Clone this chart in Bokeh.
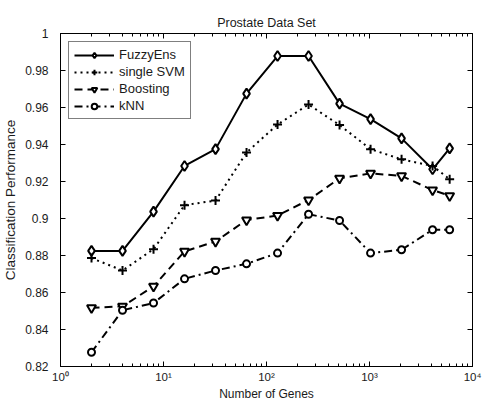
from bokeh.plotting import figure
from bokeh.models import (Range1d, FixedTicker, LinearAxis, LogAxis, NumeralTickFormatter,
                          Legend, LegendItem)
from bokeh.embed import file_html
from bokeh.resources import INLINE

genes = [2, 4, 8, 16, 32, 64, 128, 256, 512, 1024, 2048, 4096, 6000]
fuzzy = [0.8825, 0.8825, 0.9037, 0.9284, 0.9375, 0.9675, 0.9878, 0.9878, 0.9621, 0.9537, 0.9433, 0.9266, 0.9379]
svm = [0.8786, 0.8719, 0.8834, 0.9072, 0.9097, 0.9357, 0.9508, 0.9616, 0.9505, 0.9375, 0.9320, 0.9284, 0.9212]
boost = [0.8517, 0.8525, 0.8633, 0.8822, 0.8876, 0.8992, 0.9016, 0.9100, 0.9217, 0.9244, 0.9230, 0.9154, 0.9123]
knn = [0.8277, 0.8504, 0.8543, 0.8674, 0.8719, 0.8755, 0.8813, 0.9023, 0.8989, 0.8813, 0.8831, 0.8939, 0.8939]

x_ticks = [1, 10, 100, 1000, 10000]
x_tick_labels = ["10\u2070", "10\u00b9", "10\u00b2", "10\u00b3", "10\u2074"]
y_ticks = [0.82, 0.84, 0.86, 0.88, 0.90, 0.92, 0.94, 0.96, 0.98, 1.00]

FONT = "Liberation Sans"
TICKFONT = "Liberation Sans Narrow, Liberation Sans"
TXT = "#1a1a1a"

p = figure(width=482, height=403, x_axis_type="log",
           x_range=Range1d(1, 10000), y_range=Range1d(0.82, 1.0),
           output_backend="svg", toolbar_location=None,
           min_border_left=56, min_border_right=10, min_border_top=33, min_border_bottom=36,
           title="Prostate Data Set")
p.title.align = "center"
p.title.text_font = FONT
p.title.text_font_style = "normal"
p.title.text_font_size = "12.5px"
p.title.text_color = TXT
p.title.standoff = 7
p.grid.visible = False
p.outline_line_color = "black"
p.outline_line_width = 1
p.background_fill_color = "white"
p.border_fill_color = "white"

minor = [m * t for t in x_ticks[:-1] for m in range(2, 10)]
xt = FixedTicker(ticks=x_ticks, minor_ticks=minor)
yt = FixedTicker(ticks=y_ticks, minor_ticks=[])

def style(ax):
    ax.axis_line_color = "black"
    ax.major_tick_line_color = "black"
    ax.minor_tick_line_color = "black"
    ax.major_tick_in = 5
    ax.major_tick_out = 0
    ax.minor_tick_in = 3
    ax.minor_tick_out = 0
    ax.major_label_text_font = TICKFONT
    ax.major_label_text_font_size = "12px"
    ax.major_label_text_color = TXT
    ax.axis_label_text_font = FONT
    ax.axis_label_text_font_size = "12.5px"
    ax.axis_label_text_font_style = "normal"
    ax.axis_label_text_color = TXT

xa = p.xaxis[0]
xa.ticker = xt
xa.major_label_overrides = {t: l for t, l in zip(x_ticks, x_tick_labels)}
xa.axis_label = "Number of Genes"
style(xa)
xa.axis_label_standoff = 1
xa.major_label_standoff = 4
xa.major_label_text_font_size = "11.5px"
xa.axis_label_text_font_size = "12px"

ya = p.yaxis[0]
ya.ticker = yt
ya.formatter = NumeralTickFormatter(format="0.[00]")
ya.axis_label = "Classification Performance"
ya.axis_label_standoff = 4
ya.major_label_standoff = 12
style(ya)
ya.axis_label_text_font_size = "13.5px"

ra = LinearAxis(ticker=yt)
style(ra)
ra.major_label_text_font_size = "1px"
ra.major_label_text_alpha = 0
ra.major_label_standoff = 0
p.add_layout(ra, "right")

ta = LogAxis(ticker=xt)
style(ta)
ta.major_label_text_font_size = "1px"
ta.major_label_text_alpha = 0
ta.major_label_standoff = 0
p.add_layout(ta, "above")

series = [
    ("FuzzyEns", fuzzy, "solid", "diamond", 10),
    ("single SVM", svm, "2 4", "cross", 9),
    ("Boosting", boost, "8 5", "inverted_triangle", 9),
    ("kNN", knn, "8 4 2 4", "circle", 7),
]

items = []
for name, ys, dash, marker, size in series:
    l = p.line(genes, ys, line_color="black", line_width=2, line_dash=dash)
    s = p.scatter(genes, ys, marker=marker, size=size, line_color="black",
                  fill_color="white", line_width=2)
    items.append(LegendItem(label=name, renderers=[l, s]))

legend = Legend(items=items, location="top_left")
legend.margin = 8
legend.padding = 5
legend.spacing = 2
legend.glyph_width = 40
legend.glyph_height = 14
legend.label_height = 14
legend.label_standoff = 5
legend.label_text_font = FONT
legend.label_text_font_size = "13px"
legend.label_text_color = TXT
legend.border_line_color = "black"
legend.border_line_width = 1
legend.background_fill_alpha = 1
p.add_layout(legend)

open("out.html", "w").write(file_html(p, INLINE))
